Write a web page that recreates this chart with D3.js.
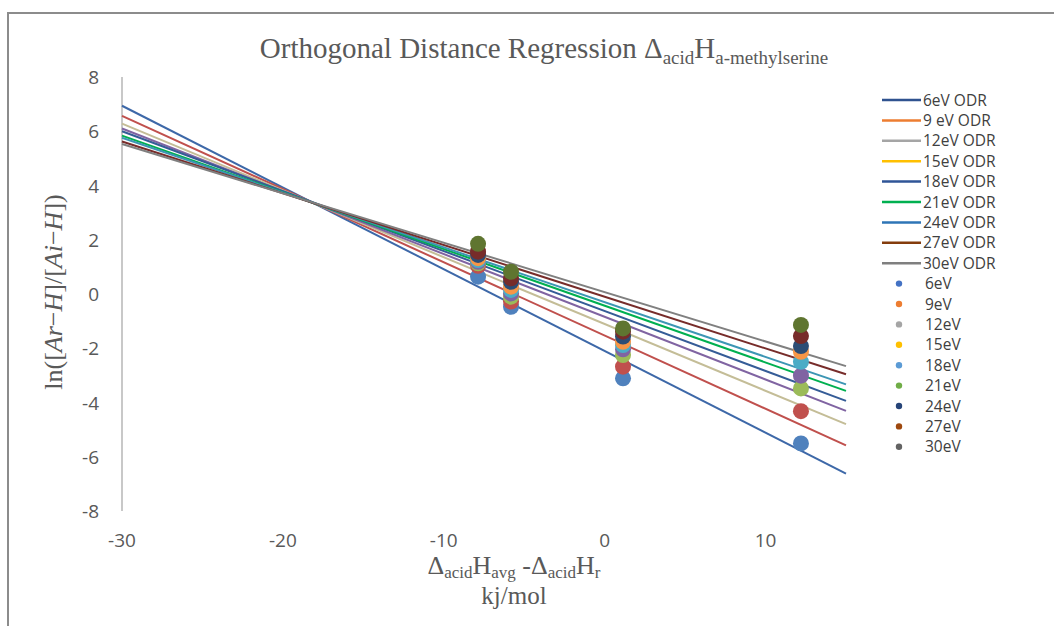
<!DOCTYPE html>
<html><head><meta charset="utf-8">
<script src="https://cdn.jsdelivr.net/npm/d3@7"></script>
<style>body{margin:0;background:#fff;}svg{display:block;}</style>
</head><body>
<svg id="chart" width="1054" height="626"></svg>
<script>
// ---- data ----
const xTicks = [-30, -20, -10, 0, 10];
const yTicks = [-8, -6, -4, -2, 0, 2, 4, 6, 8];
const lineNames = ["6eV ODR","9 eV ODR","12eV ODR","15eV ODR","18eV ODR","21eV ODR","24eV ODR","27eV ODR","30eV ODR"];
const lineX = [-30, 15];
const lineYStart = [6.94, 6.57, 6.28, 6.10, 6.00, 5.84, 5.76, 5.62, 5.53];
const lineYEnd   = [-6.62, -5.58, -4.80, -4.31, -3.94, -3.57, -3.33, -2.96, -2.66];
const pointNames = ["6eV","9eV","12eV","15eV","18eV","21eV","24eV","27eV","30eV"];
const pointX = [-7.87, -5.82, 1.14, 12.2];
const pointY = [
  [0.64, -0.47, -3.11, -5.51],
  [1.04, -0.28, -2.68, -4.32],
  [1.13, -0.10, -2.25, -3.48],
  [1.19, 0.02, -2.04, -3.01],
  [1.25, 0.15, -1.88, -2.50],
  [1.32, 0.27, -1.76, -2.13],
  [1.44, 0.45, -1.57, -1.92],
  [1.56, 0.58, -1.39, -1.55],
  [1.85, 0.82, -1.27, -1.14]
];
const linePlotColors = ["#3D68A8","#C0504D","#C4BD97","#8064A2","#355C97","#00B050","#3C96B4","#772C2A","#808080"];
const lineLegendColors = ["#2F528F","#ED7D31","#A5A5A5","#FFC000","#2F5597","#00B050","#2E75B6","#843C0C","#7F7F7F"];
const pointPlotColors = ["#4F81BD","#C0504D","#9BBB59","#8064A2","#4BACC6","#F79646","#2C4D75","#772C2A","#5F7530"];
const pointLegendColors = ["#4472C4","#ED7D31","#A5A5A5","#FFC000","#5B9BD5","#70AD47","#264478","#9E480E","#636363"];

// ---- layout ----
const svg = d3.select("#chart");
const L = 122, R = 846, T = 77, B = 511;
const x = d3.scaleLinear().domain([-30, 15]).range([L, R]);
const y = d3.scaleLinear().domain([-8, 8]).range([B, T]);
const gray = "#595959";

// outer frame
svg.append("path").attr("d", "M8,626 V13 H1054").attr("fill","none").attr("stroke","#8c8c8c").attr("stroke-width",2);

// y axis line
svg.append("line").attr("x1", x(-30)).attr("x2", x(-30)).attr("y1", y(8)).attr("y2", y(-8))
  .attr("stroke","#C8C8C8").attr("stroke-width",2);

// tick labels
svg.append("g").selectAll("text").data(yTicks).join("text")
  .attr("x", 99).attr("y", d => y(d) + 7).attr("text-anchor","end")
  .attr("font-family","Open Sans, sans-serif").attr("font-size",19).attr("fill",gray)
  .text(d => d);
svg.append("g").selectAll("text").data(xTicks).join("text")
  .attr("x", d => x(d)).attr("y", 547).attr("text-anchor","middle")
  .attr("font-family","Open Sans, sans-serif").attr("font-size",19).attr("fill",gray)
  .text(d => d);

// lines
const lineGen = d3.line().x(d => x(d[0])).y(d => y(d[1]));
svg.append("g").selectAll("path").data(lineNames).join("path")
  .attr("d", (d,i) => lineGen([[lineX[0], lineYStart[i]], [lineX[1], lineYEnd[i]]]))
  .attr("fill","none").attr("stroke", (d,i) => linePlotColors[i]).attr("stroke-width",2);

// points
const pg = svg.append("g");
pointNames.forEach((n,i) => {
  pg.append("g").selectAll("circle").data(pointX).join("circle")
    .attr("cx", d => x(d)).attr("cy", (d,j) => y(pointY[i][j])).attr("r", 8)
    .attr("fill", pointPlotColors[i]);
});

// title
const title = svg.append("text").attr("x", 544).attr("y", 58).attr("text-anchor","middle")
  .attr("font-family","Liberation Serif, serif").attr("font-size",29).attr("fill",gray);
title.append("tspan").text("Orthogonal Distance Regression Δ");
title.append("tspan").attr("font-size",19).attr("dy",6).text("acid");
title.append("tspan").attr("dy",-6).text("H");
title.append("tspan").attr("font-size",19).attr("dy",6).text("a-methylserine");

// x axis title
const xt = svg.append("text").attr("x", 514).attr("y", 574).attr("text-anchor","middle")
  .attr("font-family","Liberation Serif, serif").attr("font-size",26).attr("fill",gray);
xt.append("tspan").text("Δ");
xt.append("tspan").attr("font-size",17).attr("dy",4).text("acid");
xt.append("tspan").attr("dy",-4).text("H");
xt.append("tspan").attr("font-size",17).attr("dy",4).text("avg");
xt.append("tspan").attr("dy",-4).text(" -Δ");
xt.append("tspan").attr("font-size",17).attr("dy",4).text("acid");
xt.append("tspan").attr("dy",-4).text("H");
xt.append("tspan").attr("font-size",17).attr("dy",4).text("r");
svg.append("text").attr("x", 514).attr("y", 604).attr("text-anchor","middle")
  .attr("font-family","Liberation Serif, serif").attr("font-size",25).attr("fill",gray).text("kj/mol");

// y axis title
const yt = svg.append("text").attr("transform","translate(62,292) rotate(-90)").attr("text-anchor","middle")
  .attr("font-family","Liberation Serif, serif").attr("font-size",26).attr("fill",gray);
yt.append("tspan").text("ln([");
yt.append("tspan").attr("font-style","italic").text("Ar");
yt.append("tspan").text("−");
yt.append("tspan").attr("font-style","italic").text("H");
yt.append("tspan").text("]/[");
yt.append("tspan").attr("font-style","italic").text("Ai");
yt.append("tspan").text("−");
yt.append("tspan").attr("font-style","italic").text("H");
yt.append("tspan").text("])");

// legend
const lg = svg.append("g").attr("font-family","Open Sans, sans-serif").attr("font-size",15.5).attr("fill","#404040");
const step = 20.4;
lineNames.forEach((n,i) => {
  const yy = 100 + i*step;
  lg.append("line").attr("x1",882).attr("x2",921).attr("y1",yy).attr("y2",yy)
    .attr("stroke", lineLegendColors[i]).attr("stroke-width",2.5);
  lg.append("text").attr("x",923).attr("y",yy+5.5).text(n);
});
pointNames.forEach((n,i) => {
  const yy = 100 + (i+9)*step;
  lg.append("circle").attr("cx",899).attr("cy",yy).attr("r",3.2).attr("fill", pointLegendColors[i]);
  lg.append("text").attr("x",925).attr("y",yy+5.5).text(n);
});
</script>
</body></html>
